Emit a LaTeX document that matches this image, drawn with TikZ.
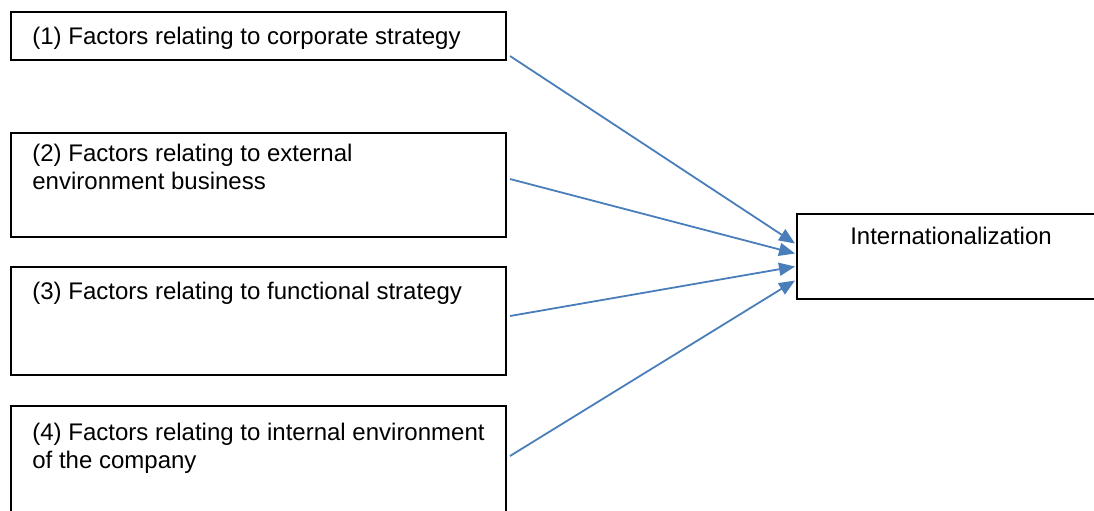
\documentclass[tikz,border=0pt]{standalone}
\usepackage{fontspec}
\setmainfont{Liberation Sans}
\usetikzlibrary{arrows.meta}
\definecolor{arrowblue}{HTML}{4A7EBB}

\begin{document}
\begin{tikzpicture}[x=0.5pt, y=-0.5pt,
        box/.style={draw, line width=1pt, anchor=north west, inner sep=0pt, minimum width=247.5pt},
        txt/.style={anchor=base west, align=left, inner sep=0pt, font=\fontsize{12}{14}\selectfont},
        link/.style={-{Triangle[length=8pt, width=6.5pt]}, arrowblue, line width=0.9pt}]
        \useasboundingbox (0, 0) rectangle (1094, 510);

        \node[box, minimum height=24pt] at (10, 11)    (f1) {};
        \node[box, minimum height=52pt] at (10, 132)   (f2) {};
        \node[box, minimum height=54pt] at (10, 266)   (f3) {};
        \node[box, minimum height=65pt] at (10, 405)   (f4) {};
        \node[box, minimum width=155pt, minimum height=42.5pt] at (796, 213) (intl) {};

        % two-line labels sit on the baseline of their last line
        \node[txt] at (32, 44)  (t1) {(1) Factors relating to corporate strategy};
        \node[txt] at (32, 189) (t2) {(2) Factors relating to external\\environment business};
        \node[txt] at (32, 299) (t3) {(3) Factors relating to functional strategy};
        \node[txt] at (32, 468) (t4) {(4) Factors relating to internal environment\\of the company};
        \node[txt, anchor=base] at (951, 244) (ti) {Internationalization};

        \draw [link] ([shift={(3, 20)}]f1.east)   -- ([shift={(-1, -13)}]intl.west);
        \draw [link] ([shift={(3, -6)}]f2.east)   -- ([shift={(-1, -3)}]intl.west);
        \draw [link] ([shift={(3, -5)}]f3.east)   -- ([shift={(-1, 10)}]intl.west);
        \draw [link] ([shift={(3, -15)}]f4.east)  -- ([shift={(-1, 24)}]intl.west);
    \end{tikzpicture}
\end{document}
